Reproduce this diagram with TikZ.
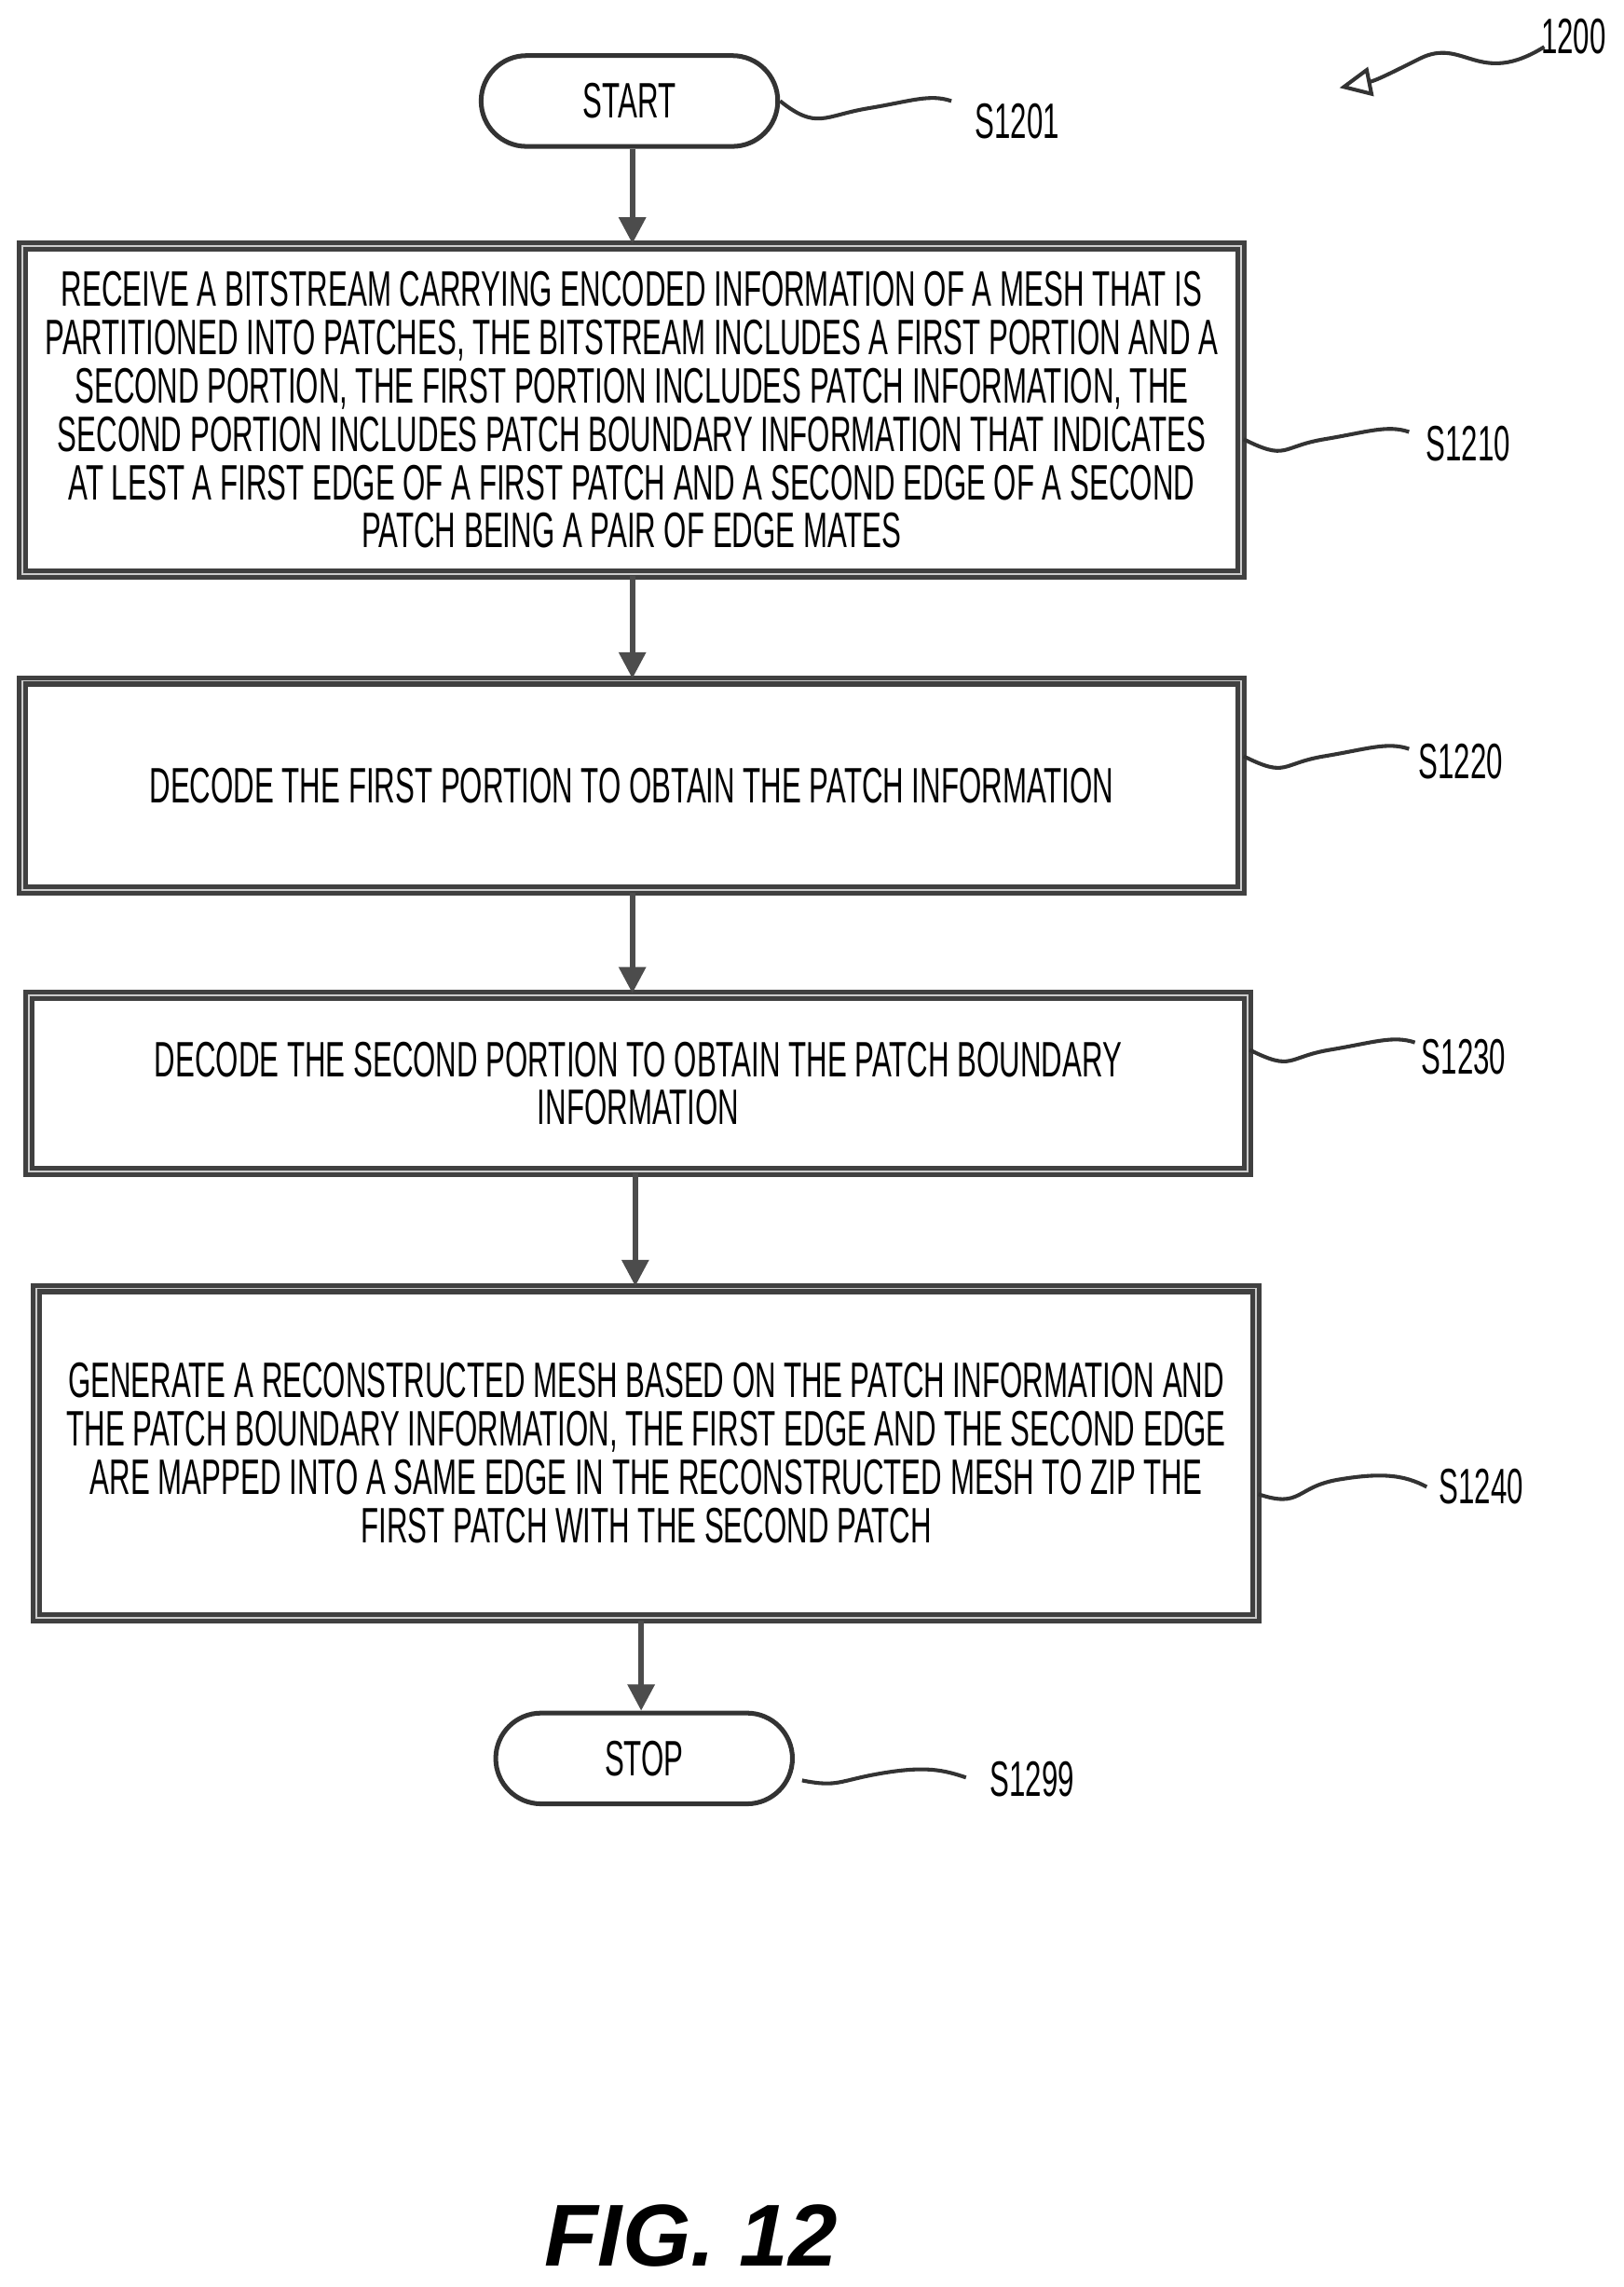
\documentclass[tikz,border=0pt]{standalone}
\usepackage{fontspec}
\setmainfont{Liberation Sans}[FakeStretch=0.585]
\newfontfamily\capfont{Liberation Sans}
\usetikzlibrary{positioning, shapes.misc, arrows.meta}

\begin{document}
\begin{tikzpicture}[
    x=0.5pt, y=-0.5pt,
    line width=1.6pt,
    every node/.style={font=\fontsize{17}{16.5}\selectfont},
    arrow/.style={
        -{Triangle[length=9pt,width=9pt]},
        draw=black!70,
        line width=1.8pt
    },
    process/.style={
        rectangle,
        draw=black!75,
        double=gray!40,
        double distance=0.6pt,
        align=center,
        inner sep=0pt
    },
    term/.style={
        rounded rectangle,
        draw=black!80,
        minimum width=108pt,
        minimum height=31pt
    },
    squiggle/.style={
        draw=black!80,
        line width=1.3pt
    },
    tag/.style={anchor=center}
]
    \useasboundingbox (0,0) rectangle (1109,1562);

    % Terminals
    \node[term] (start) at (430,69) {START};
    \node[term] (stop) at (440,1201) {STOP};

    % Steps
    \node[process, minimum width=416.5pt, minimum height=112pt] (s1210) at (431.5,280)
        {RECEIVE A BITSTREAM CARRYING ENCODED INFORMATION OF A MESH THAT IS\\
         PARTITIONED INTO PATCHES, THE BITSTREAM INCLUDES A FIRST PORTION AND A\\
         SECOND PORTION, THE FIRST PORTION INCLUDES PATCH INFORMATION, THE\\
         SECOND PORTION INCLUDES PATCH BOUNDARY INFORMATION THAT INDICATES\\
         AT LEST A FIRST EDGE OF A FIRST PATCH AND A SECOND EDGE OF A SECOND\\
         PATCH BEING A PAIR OF EDGE MATES};
    \node[process, minimum width=416.5pt, minimum height=71.5pt] (s1220) at (431.5,536.5)
        {DECODE THE FIRST PORTION TO OBTAIN THE PATCH INFORMATION};
    \node[process, minimum width=416pt, minimum height=60pt] (s1230) at (436,740)
        {DECODE THE SECOND PORTION TO OBTAIN THE PATCH BOUNDARY\\
         INFORMATION};
    \node[process, minimum width=416.5pt, minimum height=112.5pt] (s1240) at (441.5,992.5)
        {GENERATE A RECONSTRUCTED MESH BASED ON THE PATCH INFORMATION AND\\
         THE PATCH BOUNDARY INFORMATION, THE FIRST EDGE AND THE SECOND EDGE\\
         ARE MAPPED INTO A SAME EDGE IN THE RECONSTRUCTED MESH TO ZIP THE\\
         FIRST PATCH WITH THE SECOND PATCH};

    % Flow
    \draw[arrow] (start.south -| 432,0) -- (s1210.north -| 432,0);
    \draw[arrow] (s1210.south -| 432,0) -- (s1220.north -| 432,0);
    \draw[arrow] (s1220.south -| 432,0) -- (s1230.north -| 432,0);
    \draw[arrow] (s1230.south -| 434,0) -- (s1240.north -| 434,0);
    \draw[arrow] (s1240.south -| 438,0) -- (stop.north -| 438,0);

    % Step labels
    \node[tag] (l1201) at (695,83) {S1201};
    \node[tag] (l1210) at (1003,303) {S1210};
    \node[tag] (l1220) at (998,520) {S1220};
    \node[tag] (l1230) at (1000,722) {S1230};
    \node[tag] (l1240) at (1012,1015) {S1240};
    \node[tag] (l1299) at (705,1215) {S1299};
    \node[tag] (l1200) at (1075,25) {1200};

    \draw[squiggle] (start.east) .. controls +(25,20) and +(-30,5) .. ++(60,5) .. controls +(30,-5) and +(-15,-5) .. ++(57,-5);
    \draw[squiggle] (s1210.east) ++(0,20) .. controls +(30,15) and +(-30,5) .. ++(55,0) .. controls +(30,-5) and +(-15,-5) .. ++(58,-5);
    \draw[squiggle] (s1220.east) ++(0,-20) .. controls +(30,15) and +(-30,5) .. ++(55,0) .. controls +(30,-5) and +(-15,-5) .. ++(58,-5);
    \draw[squiggle] (s1230.east) ++(0,-23) .. controls +(30,15) and +(-30,5) .. ++(55,0) .. controls +(30,-5) and +(-15,-5) .. ++(58,-5);
    \draw[squiggle] (s1240.east) ++(0,28) .. controls +(30,10) and +(-30,5) .. ++(55,-10) .. controls +(30,-5) and +(-15,-8) .. ++(60,5);
    \draw[squiggle] (stop.east) ++(5,15) .. controls +(25,5) and +(-30,5) .. ++(55,-5) .. controls +(30,-5) and +(-15,-5) .. ++(57,3);
    \draw[squiggle, -{Triangle[open,length=11pt,width=10pt]}] (1055,32) .. controls (1010,60) and (1000,25) .. (970,40) .. controls (950,50) and (940,55) .. (915,60);

    % Caption
    \node[font=\capfont\fontsize{30}{34}\selectfont\bfseries\itshape] (caption) at (472,1527) {FIG. 12};
\end{tikzpicture}
\end{document}
